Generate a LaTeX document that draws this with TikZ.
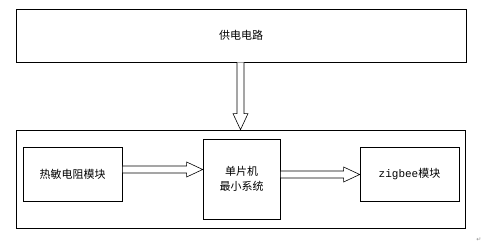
\documentclass[tikz,border=0pt]{standalone}
\usepackage{fontspec}
\setmainfont{Noto Sans CJK SC}
\setmonofont{Liberation Mono}
\newfontfamily\symfont{DejaVu Sans}
\usetikzlibrary{calc,shadows}
\tikzset{
  blk/.style={draw=black, line width=0.7pt, fill=white, inner sep=0pt, align=center,
    font=\fontsize{11}{15}\selectfont,
    drop shadow={shadow xshift=1pt, shadow yshift=-1pt, fill=black!45, opacity=1}},
  harr/.style={draw=black, line width=0.6pt, fill=white},
}
\newcommand\hollowR[3]{% start, end, half shaft width
  \draw[harr] ($(#1)+(0,#3)$) -- ($(#2)+(-16,#3)$) -- ($(#2)+(-16,7.5)$) -- (#2)
    -- ($(#2)+(-16,-7.5)$) -- ($(#2)+(-16,-#3)$) -- ($(#1)+(0,-#3)$) -- cycle;}
\begin{document}
\begin{tikzpicture}[x=1pt,y=-1pt]
\useasboundingbox (0,0) rectangle (485,245);
% outer frame
\node[blk, minimum width=449pt, minimum height=98pt] (outer) at (240.5,179) {};
% power box
\node[blk, minimum width=450pt, minimum height=53pt] (power) at (241,35.5) {供电电路};
% inner boxes
\node[blk, minimum width=99pt, minimum height=54pt] (sensor) at (72.5,174) {热敏电阻模块};
\node[blk, minimum width=77pt, minimum height=80pt] (mcu) at (241.5,179) {单片机\\最小系统};
\node[blk, minimum width=99pt, minimum height=54pt] (zig) at (409.5,174) {{\ttfamily zigbee}模块};
% down arrow
\coordinate (dtop) at (power.south -| 240.5,0);
\coordinate (dtip) at (outer.north -| 240.5,0);
\draw[harr] ($(dtop)+(-3.5,0)$) -- ($(dtip)+(-3.5,-16)$) -- ($(dtip)+(-7.5,-16)$) -- (dtip)
  -- ($(dtip)+(7.5,-16)$) -- ($(dtip)+(3.5,-16)$) -- ($(dtop)+(3.5,0)$);
% horizontal arrows
\coordinate (a1s) at (sensor.east |- 0,169.5);
\coordinate (a1e) at (mcu.west |- 0,169.5);
\hollowR{a1s}{a1e}{3.5}
\coordinate (a2s) at (mcu.east |- 0,174.5);
\coordinate (a2e) at (zig.west |- 0,174.5);
\hollowR{a2s}{a2e}{3.5}
% paragraph mark
\node[font=\symfont\fontsize{6}{6}\selectfont, text=black!45, inner sep=0pt] (pm) at (479,240) {↵};
\end{tikzpicture}
\end{document}
